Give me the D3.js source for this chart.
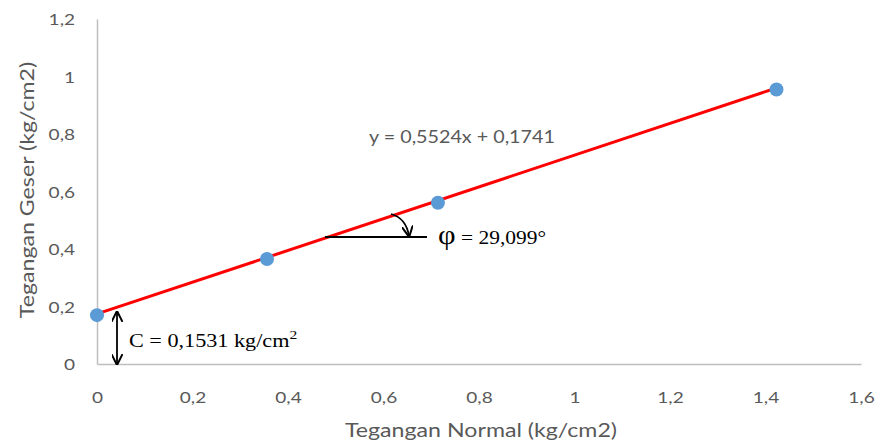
<!DOCTYPE html>
<html>
<head>
<meta charset="utf-8">
<script src="https://cdn.jsdelivr.net/npm/d3@7"></script>
<style>
  html, body { margin: 0; padding: 0; background: #fff; }
  svg { display: block; }
</style>
</head>
<body>
<svg id="chart" width="884" height="447"></svg>
<script>
// Direct shear test results
const normalStress = [0, 0.356, 0.714, 1.423];
const shearStress = [0.17, 0.365, 0.561, 0.955];
const slope = 0.5524;
const intercept = 0.1741;
const xTicks = [0, 0.2, 0.4, 0.6, 0.8, 1, 1.2, 1.4, 1.6];
const yTicks = [0, 0.2, 0.4, 0.6, 0.8, 1, 1.2];
const equationLabel = "y = 0,5524x + 0,1741";
const phiLabel = " = 29,099°";
const cohesionLabel = "C = 0,1531 kg/cm";

const svg = d3.select("#chart");
const fmt = d => String(d).replace(".", ",");
const sans = "Lato, 'Open Sans', sans-serif";
const serif = "'Liberation Serif', 'DejaVu Serif', serif";
const grey = "#595959";

// widen glyphs along the writing direction
function placeText(sel, x, y, sx, rotate) {
  const r = rotate ? ` rotate(${rotate})` : "";
  return sel.attr("transform", `translate(${x},${y})${r} scale(${sx},1)`);
}

const x = d3.scaleLinear().domain([0, 1.6]).range([97, 861]);
const y = d3.scaleLinear().domain([0, 1.2]).range([364, 19]);

// axes
const tickScale = 1.27;
const xAxis = svg.append("g").attr("transform", `translate(0,${y(0)})`)
  .call(d3.axisBottom(x).tickValues(xTicks).tickFormat(fmt).tickSize(0));
const yAxis = svg.append("g").attr("transform", `translate(${x(0)},0)`)
  .call(d3.axisLeft(y).tickValues(yTicks).tickFormat(fmt).tickSize(0));
[xAxis, yAxis].forEach(g => {
  g.select(".domain").attr("stroke", "#bfbfbf").attr("stroke-width", 1.5);
  g.selectAll("text").attr("fill", grey).style("font-family", sans).style("font-size", "15px")
    .attr("x", null).attr("y", null).attr("dy", null);
});
xAxis.selectAll("text").attr("text-anchor", "middle").attr("transform", `translate(0,39) scale(${tickScale},1)`);
yAxis.selectAll("text").attr("text-anchor", "end").attr("transform", `translate(-22,5.5) scale(${tickScale},1)`);

// axis titles
placeText(svg.append("text"), 481, 437, 1.22)
  .attr("text-anchor", "middle").attr("fill", grey)
  .style("font-family", sans).style("font-size", "19px")
  .text("Tegangan Normal (kg/cm2)");
placeText(svg.append("text"), 34, 190, 1.22, -90)
  .attr("text-anchor", "middle").attr("fill", grey)
  .style("font-family", sans).style("font-size", "19px")
  .text("Tegangan Geser (kg/cm2)");

// trendline
const xMax = d3.max(normalStress);
svg.append("line")
  .attr("x1", x(0)).attr("y1", y(intercept))
  .attr("x2", x(xMax)).attr("y2", y(slope * xMax + intercept))
  .attr("stroke", "#ff0000").attr("stroke-width", 3);

// data points
svg.selectAll("circle.pt").data(normalStress).join("circle")
  .attr("class", "pt")
  .attr("cx", d => x(d)).attr("cy", (d, i) => y(shearStress[i]))
  .attr("r", 7).attr("fill", "#5b9bd5");

// trendline equation
placeText(svg.append("text"), 369, 143, 1.16)
  .attr("fill", grey).style("font-family", sans).style("font-size", "17px")
  .text(equationLabel);

// arrowheads
const defs = svg.append("defs");
defs.append("marker").attr("id", "arrow").attr("viewBox", "0 0 10 10")
  .attr("refX", 9).attr("refY", 5).attr("markerWidth", 11).attr("markerHeight", 11)
  .attr("markerUnits", "userSpaceOnUse").attr("orient", "auto-start-reverse")
  .append("path").attr("d", "M0,0 L10,5 L0,10").attr("fill", "none")
  .attr("stroke", "#000").attr("stroke-width", 1.8);

// friction angle annotation
svg.append("line").attr("x1", 325).attr("y1", 237).attr("x2", 427).attr("y2", 237)
  .attr("stroke", "#000").attr("stroke-width", 1.8);
svg.append("path").attr("d", "M391,214 Q406,218 409,236")
  .attr("fill", "none").attr("stroke", "#000").attr("stroke-width", 1.8)
  .attr("marker-end", "url(#arrow)");
const phi = placeText(svg.append("text"), 438, 244, 1.13)
  .attr("fill", "#000").style("font-family", serif).style("font-size", "19px");
phi.append("tspan").style("font-size", "27px").text("φ");
phi.append("tspan").text(phiLabel);

// cohesion annotation
svg.append("line").attr("x1", 117).attr("y1", 312).attr("x2", 117).attr("y2", 364)
  .attr("stroke", "#000").attr("stroke-width", 1.8)
  .attr("marker-start", "url(#arrow)").attr("marker-end", "url(#arrow)");
const coh = placeText(svg.append("text"), 129, 347, 1.2)
  .attr("fill", "#000").style("font-family", serif).style("font-size", "18.5px");
coh.append("tspan").text(cohesionLabel);
coh.append("tspan").attr("dy", -8).style("font-size", "13px").text("2");
</script>
</body>
</html>
